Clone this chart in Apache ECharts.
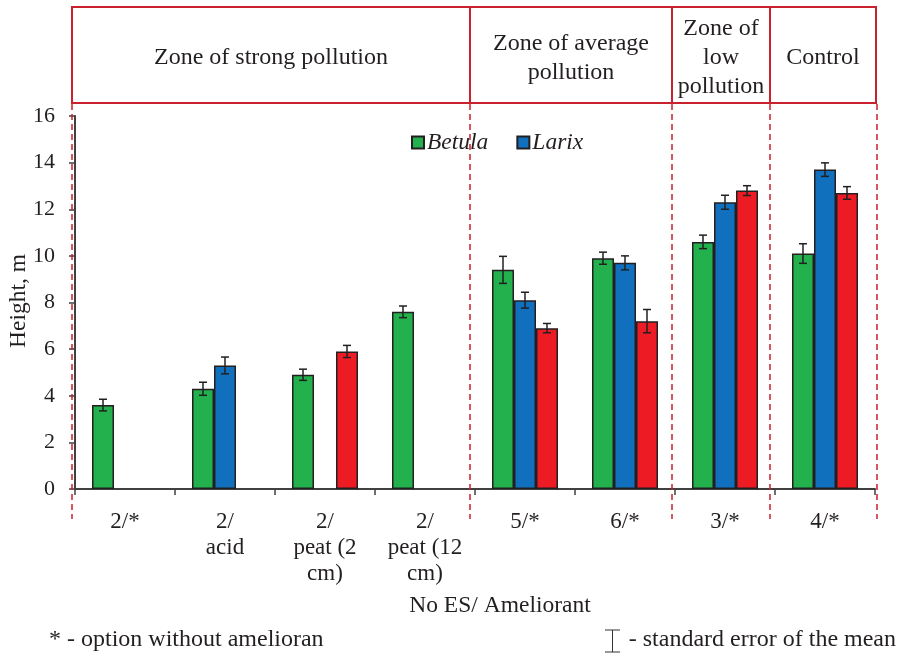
<!DOCTYPE html>
<html>
<head>
<meta charset="utf-8">
<script src="https://cdn.jsdelivr.net/npm/echarts@6/dist/echarts.min.js"></script>
<style>html,body{margin:0;padding:0;background:#fff}#c{width:902px;height:657px}</style>
</head>
<body>
<div id="c"></div>
<script>
var categories = ['2/*', '2/\nacid', '2/\npeat (2\ncm)', '2/\npeat (12\ncm)', '5/*', '6/*', '3/*', '4/*'];
var betula = [3.6, 4.3, 4.9, 7.6, 9.4, 9.9, 10.6, 10.1];
var betulaErr = [0.25, 0.28, 0.24, 0.25, 0.58, 0.26, 0.29, 0.42];
var larix = [null, 5.3, null, null, 8.1, 9.7, 12.3, 13.7];
var larixErr = [null, 0.36, null, null, 0.34, 0.30, 0.30, 0.29];
var series3 = [null, null, 5.9, null, 6.9, 7.2, 12.8, 12.7];
var series3Err = [null, null, 0.26, null, 0.20, 0.50, 0.21, 0.27];
var yTicks = [0, 2, 4, 6, 8, 10, 12, 14, 16];
var zones = ['Zone of strong pollution', 'Zone of average\npollution', 'Zone of\nlow\npollution', 'Control'];

var FONT = "'Liberation Serif', 'Times New Roman', serif";
var TXT = '#231f20';
var RED = '#c9212e';
var colors = ['#22b14c', '#1170be', '#ed1c24'];

var errData = [];
[[betula, betulaErr], [larix, larixErr], [series3, series3Err]].forEach(function (p, s) {
  p[0].forEach(function (v, i) {
    if (v != null && p[1][i] != null) errData.push([i, v, p[1][i], s]);
  });
});

var chart = echarts.init(document.getElementById('c'), null, {renderer: 'canvas'});

function barSeries(name, data, color) {
  return {
    name: name, type: 'bar', data: data,
    barGap: '0%', barCategoryGap: '34%',
    itemStyle: {color: color, borderColor: '#231f20', borderWidth: 1.5},
    emphasis: {disabled: true}
  };
}

var zoneX = [72, 470, 672, 770, 876];
var graphics = [];
for (var z = 0; z < zones.length; z++) {
  graphics.push({
    type: 'rect', shape: {x: zoneX[z], y: 7, width: zoneX[z + 1] - zoneX[z], height: 96},
    style: {fill: 'none', stroke: RED, lineWidth: 2}, z: 10
  });
  graphics.push({
    type: 'text', x: (zoneX[z] + zoneX[z + 1]) / 2, y: 58,
    style: {text: zones[z], font: '24px ' + FONT, fill: TXT, align: 'center', verticalAlign: 'middle', lineHeight: 29}, z: 10
  });
}
var dashX = [72, 470, 672, 770, 877];
dashX.forEach(function (x) {
  graphics.push({
    type: 'line', shape: {x1: x, y1: 104, x2: x, y2: 519},
    style: {stroke: RED, lineWidth: 1.5, lineDash: [6, 4]}, z: 20
  });
});
graphics.push({
  type: 'text', x: 19, y: 301, rotation: Math.PI / 2,
  style: {text: 'Height, m', font: '23.5px ' + FONT, fill: TXT, align: 'center', verticalAlign: 'middle'}
});
graphics.push({
  type: 'text', x: 500, y: 606,
  style: {text: 'No ES/ Ameliorant', font: '23.5px ' + FONT, fill: TXT, align: 'center', verticalAlign: 'middle'}
});
graphics.push({
  type: 'text', x: 49, y: 640,
  style: {text: '* - option without amelioran', font: '24px ' + FONT, fill: TXT, align: 'left', verticalAlign: 'middle'}
});
graphics.push({
  type: 'text', x: 896, y: 640,
  style: {text: '- standard error of the mean', font: '24px ' + FONT, fill: TXT, align: 'right', verticalAlign: 'middle'}
});
graphics.push({type: 'line', shape: {x1: 605, y1: 630, x2: 620, y2: 630}, style: {stroke: '#333', lineWidth: 1}});
graphics.push({type: 'line', shape: {x1: 605, y1: 652, x2: 620, y2: 652}, style: {stroke: '#333', lineWidth: 1}});
graphics.push({type: 'line', shape: {x1: 612.5, y1: 630, x2: 612.5, y2: 652}, style: {stroke: '#333', lineWidth: 1}});

var option = {
  animation: false,
  backgroundColor: '#fff',
  textStyle: {fontFamily: FONT, color: TXT},
  grid: {left: 75, right: 27, top: 116, bottom: 168, containLabel: false, outerBoundsMode: 'none'},
  legend: {
    data: ['Betula', 'Larix'], top: 126, left: 406, itemWidth: 12, itemHeight: 12, itemGap: 28,
    icon: 'rect',
    textStyle: {fontFamily: FONT, fontSize: 23.5, fontStyle: 'italic', color: TXT, padding: [0, 0, 0, -2]}
  },
  xAxis: {
    type: 'category', data: categories,
    axisLine: {lineStyle: {color: '#404040', width: 2}},
    axisTick: {show: true, alignWithLabel: false, length: 6, lineStyle: {color: '#404040', width: 1.5}},
    axisLabel: {fontFamily: FONT, fontSize: 23, color: TXT, margin: 20, lineHeight: 26, interval: 0}
  },
  yAxis: {
    type: 'value', min: yTicks[0], max: yTicks[yTicks.length - 1], interval: 2,
    axisLine: {show: true, lineStyle: {color: '#404040', width: 2}},
    axisTick: {show: true, length: 6, lineStyle: {color: '#404040', width: 1.5}},
    splitLine: {show: false},
    axisLabel: {fontFamily: FONT, fontSize: 22, color: TXT, margin: 20}
  },
  series: [
    barSeries('Betula', betula, colors[0]),
    barSeries('Larix', larix, colors[1]),
    barSeries('Series 3', series3, colors[2]),
    {
      type: 'custom', data: errData, z: 5,
      encode: {x: 0, y: 1},
      renderItem: function (params, api) {
        var ci = api.value(0), v = api.value(1), e = api.value(2), s = api.value(3);
        var band = api.size([1, 0])[0];
        var bw = band * 0.66 / 3;
        var c = api.coord([ci, v]);
        var cx = c[0] + (s - 1) * bw;
        var top = api.coord([ci, v + e])[1];
        var bot = api.coord([ci, v - e])[1];
        var hw = 4;
        var st = {stroke: '#231f20', lineWidth: 1.5};
        return {
          type: 'group', children: [
            {type: 'line', shape: {x1: cx, y1: top, x2: cx, y2: bot}, style: st},
            {type: 'line', shape: {x1: cx - hw, y1: top, x2: cx + hw, y2: top}, style: st},
            {type: 'line', shape: {x1: cx - hw, y1: bot, x2: cx + hw, y2: bot}, style: st}
          ]
        };
      }
    }
  ],
  graphic: graphics
};
chart.setOption(option);
</script>
</body>
</html>
